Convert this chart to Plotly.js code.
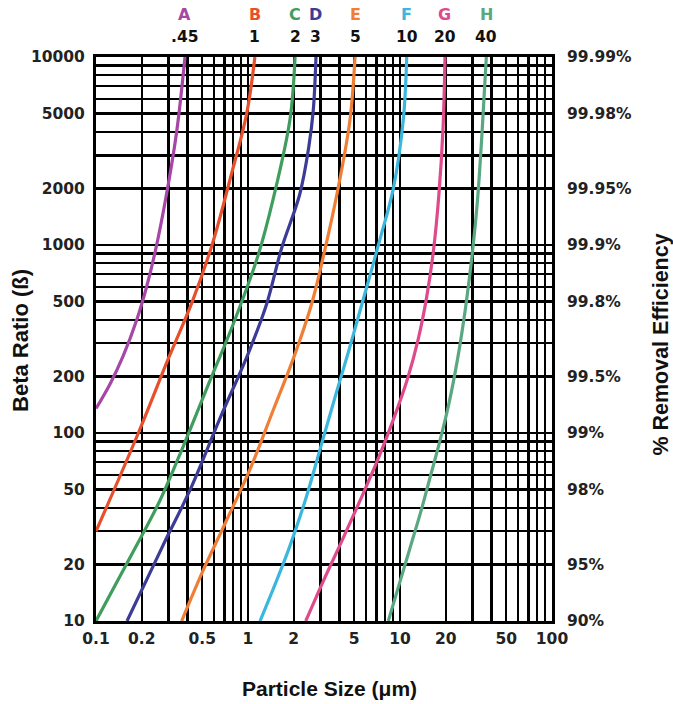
<!DOCTYPE html>
<html>
<head>
<meta charset="utf-8">
<script src="https://cdn.plot.ly/plotly-3.0.1.min.js"></script>
<style>html,body{margin:0;padding:0;background:#fff;}#chart{width:673px;height:704px;}</style>
</head>
<body>
<div id="chart"></div>
<script>
// ---- data (particle size in µm, beta ratio) ----
var curveNames = ["A", "B", "C", "D", "E", "F", "G", "H"];
var curveRatings = [".45", "1", "2", "3", "5", "10", "20", "40"];
var curveColors = ["#a646a6", "#e8502c", "#3f9e5e", "#3c3c96", "#f07e34", "#3bb6dc", "#de4a8c", "#5aa882"];

var sizeA = [0.1, 0.124, 0.151, 0.185, 0.214, 0.246, 0.288, 0.339, 0.385];
var betaA = [135, 183, 257, 398, 589, 933, 1778, 3981, 10000];

var sizeB = [0.1, 0.19, 0.30, 0.43, 0.58, 0.78, 0.98, 1.11];
var betaB = [30, 100, 250, 500, 1000, 2400, 5000, 10000];

var sizeC = [0.1, 0.19, 0.263, 0.375, 0.562, 0.80, 1.17, 1.47, 1.89, 2.04];
var betaC = [10, 26.3, 43.6, 85, 190, 380, 890, 1780, 4670, 10000];

var sizeD = [0.16, 0.275, 0.417, 0.655, 1.0, 1.32, 1.66, 2.19, 2.51, 2.69, 2.8];
var betaD = [10, 25.1, 50.1, 120, 263, 479, 955, 1862, 3311, 5248, 10000];

var sizeE = [0.366, 0.501, 0.708, 1.047, 1.479, 1.995, 2.63, 3.236, 3.89, 4.677, 5.06];
var betaE = [10, 18.2, 33.1, 66.1, 135, 251, 490, 977, 1950, 4571, 10000];

var sizeF = [1.2, 1.514, 1.888, 2.399, 3.02, 3.83, 4.571, 5.458, 6.31, 7.38, 9.036, 10.52, 11.07];
var betaF = [10, 15.8, 25.1, 44.7, 85.1, 166, 269, 447, 676, 1072, 1995, 4677, 10000];

var sizeG = [2.399, 3.162, 4.169, 5.495, 7.244, 9.12, 11.22, 13.18, 14.96, 16.6, 17.99, 19.19, 19.77];
var betaG = [10, 16.6, 26.9, 44.2, 74.1, 120, 195, 316, 525, 933, 1820, 4169, 10000];

var sizeH = [8.375, 10, 11.75, 13.8, 15.85, 18.2, 20.89, 23.99, 26.92, 29.85, 32.36, 34.67, 36.98];
var betaH = [10, 16.2, 25.1, 38.9, 58.9, 89.1, 141, 251, 457, 891, 1738, 3981, 10000];

var sizeTicks = [0.1, 0.2, 0.5, 1, 2, 5, 10, 20, 50, 100];
var sizeTickText = ["0.1", "0.2", "0.5", "1", "2", "5", "10", "20", "50", "100"];
var betaTicks = [10, 20, 50, 100, 200, 500, 1000, 2000, 5000, 10000];
var betaTickText = ["10", "20", "50", "100", "200", "500", "1000", "2000", "5000", "10000"];
var efficiencyText = ["90%", "95%", "98%", "99%", "99.5%", "99.8%", "99.9%", "99.95%", "99.98%", "99.99%"];

var sizes = [sizeA, sizeB, sizeC, sizeD, sizeE, sizeF, sizeG, sizeH];
var betas = [betaA, betaB, betaC, betaD, betaE, betaF, betaG, betaH];

// minor grid values (log digits)
var sizeMinor = [], betaMinor = [];
[0.1, 1, 10].forEach(function (d) { for (var k = 2; k <= 9; k++) sizeMinor.push(+(d * k).toPrecision(3)); });
[10, 100, 1000].forEach(function (d) { for (var k = 2; k <= 9; k++) betaMinor.push(d * k); });

var traces = sizes.map(function (xs, i) {
  return {
    x: xs, y: betas[i], type: "scatter", mode: "lines",
    line: {color: curveColors[i], width: 3.2, shape: "spline", smoothing: 1},
    name: curveNames[i], showlegend: false, hoverinfo: "skip"
  };
});
// carrier for the right-hand efficiency axis
traces.push({x: [sizeTicks[0]], y: [betaTicks[0]], yaxis: "y2", type: "scatter", mode: "markers",
  marker: {opacity: 0}, showlegend: false, hoverinfo: "skip"});

var F = "Liberation Sans, Arial, sans-serif";
var TF = "DejaVu Sans, sans-serif";
var tickFont = {family: TF, size: 15.5, color: "#222", weight: "bold"};

var annotations = [];
sizes.forEach(function (xs, i) {
  var xt = Math.log10(xs[xs.length - 1]);
  annotations.push({x: xt, xref: "x", y: 1.0745, yref: "paper", text: curveNames[i], showarrow: false,
    font: {family: TF, size: 16, color: curveColors[i], weight: "bold"}, xanchor: "center", yanchor: "middle"});
  annotations.push({x: xt, xref: "x", y: 1.0355, yref: "paper", text: curveRatings[i], showarrow: false,
    font: {family: TF, size: 15.5, color: "#111", weight: "bold"}, xanchor: "center", yanchor: "middle"});
});
annotations.push({x: 0.513, y: -0.119, xref: "paper", yref: "paper", text: "Particle Size (μm)", showarrow: false,
  font: {family: F, size: 21, color: "#111", weight: "bold"}, xanchor: "center", yanchor: "middle"});
annotations.push({x: -0.167, y: 0.498, xref: "paper", yref: "paper", text: "Beta Ratio (ß)", showarrow: false, textangle: -90,
  font: {family: F, size: 22, color: "#111", weight: "bold"}, xanchor: "center", yanchor: "middle"});
annotations.push({x: 1.239, y: 0.49, xref: "paper", yref: "paper", text: "% Removal Efficiency", showarrow: false, textangle: -90,
  font: {family: F, size: 21.5, color: "#111", weight: "bold"}, xanchor: "center", yanchor: "middle"});

var layout = {
  width: 673, height: 704,
  margin: {l: 96, r: 121, t: 57, b: 83, pad: 0},
  paper_bgcolor: "#fff", plot_bgcolor: "#fff",
  showlegend: false,
  xaxis: {
    type: "log", range: [-1, 2], tickmode: "array", tickvals: sizeTicks, ticktext: sizeTickText,
    showgrid: true, gridcolor: "#000", gridwidth: 2.4, zeroline: false,
    showline: true, linecolor: "#000", linewidth: 3, mirror: true, ticks: "",
    tickfont: tickFont, ticklabelstandoff: 1,
    minor: {tickmode: "array", tickvals: sizeMinor, showgrid: true, gridcolor: "#000", gridwidth: 2.4, ticks: ""}
  },
  yaxis: {
    type: "log", range: [1, 4], tickmode: "array", tickvals: betaTicks, ticktext: betaTickText,
    showgrid: true, gridcolor: "#000", gridwidth: 2.4, zeroline: false,
    showline: true, linecolor: "#000", linewidth: 3, mirror: true, ticks: "",
    tickfont: tickFont, ticklabelstandoff: 5,
    minor: {tickmode: "array", tickvals: betaMinor, showgrid: true, gridcolor: "#000", gridwidth: 2.4, ticks: ""}
  },
  yaxis2: {
    type: "log", range: [1, 4], overlaying: "y", side: "right", tickmode: "array",
    tickvals: betaTicks, ticktext: efficiencyText, showgrid: false, zeroline: false,
    showline: false, ticks: "", tickfont: tickFont, ticklabelstandoff: 14
  },
  annotations: annotations
};

Plotly.newPlot("chart", traces, layout, {staticPlot: true, displayModeBar: false});
</script>
</body>
</html>
